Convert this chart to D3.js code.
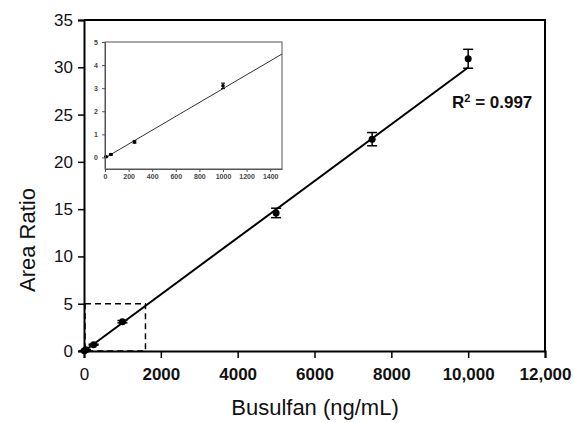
<!DOCTYPE html>
<html>
<head>
<meta charset="utf-8">
<script src="https://cdn.jsdelivr.net/npm/d3@7"></script>
<style>
  body { margin: 0; background: #fff; }
  svg { display: block; font-family: "Liberation Sans", Arial, sans-serif; }
</style>
</head>
<body>
<div id="chart"></div>
<script>
// calibration data (busulfan ng/mL vs area ratio)
const conc = [10, 50, 250, 1000, 5000, 7500, 10000];
const ratio = [0.03, 0.13, 0.67, 3.1, 14.6, 22.4, 30.9];
const err = [0.02, 0.03, 0.05, 0.12, 0.5, 0.7, 1.0];
const fitSlope = 0.003;
const fitIntercept = -0.02;
const fitRange = [0, 10000];
const insetRange = [0, 1500];
const zoomBox = [1600, 5];
const xTicks = [0, 2000, 4000, 6000, 8000, 10000, 12000];
const yTicks = [0, 5, 10, 15, 20, 25, 30, 35];
const insetXTicks = [0, 200, 400, 600, 800, 1000, 1200, 1400];
const insetYTicks = [0, 1, 2, 3, 4, 5];
const r2Label = "0.997";

const W = 574, H = 423;
const svg = d3.select("#chart").append("svg")
    .attr("width", W).attr("height", H);

const x = d3.scaleLinear().domain([0, 12000]).range([84, 545]);
const y = d3.scaleLinear().domain([0, 35]).range([351, 20]);

// frame top & right
svg.append("path")
    .attr("d", `M${x(0)},${y(35)}H${x(12000)}V${y(0)}`)
    .attr("fill", "none").attr("stroke", "#000").attr("stroke-width", 2);

// dashed zoom box
svg.append("rect")
    .attr("x", x(0) + 1).attr("y", y(zoomBox[1]))
    .attr("width", x(zoomBox[0]) - x(0) - 1)
    .attr("height", y(0) - y(zoomBox[1]))
    .attr("fill", "none").attr("stroke", "#000")
    .attr("stroke-width", 1.5).attr("stroke-dasharray", "6,4");

// fit line
svg.append("line")
    .attr("x1", x(fitRange[0])).attr("y1", y(fitIntercept + fitSlope * fitRange[0]))
    .attr("x2", x(fitRange[1])).attr("y2", y(fitIntercept + fitSlope * fitRange[1]))
    .attr("stroke", "#000").attr("stroke-width", 2);

// error bars + points
const pts = conc.map((c, i) => ({ c, r: ratio[i], e: err[i] }));
const eb = svg.append("g").attr("stroke", "#000").attr("stroke-width", 1.5);
pts.forEach(d => {
    eb.append("line").attr("x1", x(d.c)).attr("x2", x(d.c))
        .attr("y1", y(d.r - d.e)).attr("y2", y(d.r + d.e));
    [d.r - d.e, d.r + d.e].forEach(v => {
        eb.append("line").attr("x1", x(d.c) - 5).attr("x2", x(d.c) + 5)
            .attr("y1", y(v)).attr("y2", y(v));
    });
});
svg.append("g").selectAll("circle").data(pts).enter().append("circle")
    .attr("cx", d => x(d.c)).attr("cy", d => y(d.r)).attr("r", 3.5)
    .attr("fill", "#000");

// axes
const xAxis = svg.append("g")
    .attr("transform", `translate(0,${y(0)})`)
    .call(d3.axisBottom(x).tickValues(xTicks).tickSize(7).tickPadding(10)
        .tickFormat(d => d >= 10000 ? d3.format(",")(d) : d));
xAxis.selectAll("text").attr("font-size", 17).attr("font-weight", d => d === 0 ? "normal" : "bold")
    .attr("fill", "#111");
const yAxis = svg.append("g")
    .attr("transform", `translate(${x(0)},0)`)
    .call(d3.axisLeft(y).tickValues(yTicks).tickSize(6).tickPadding(5));
yAxis.selectAll("text").attr("font-size", 17).attr("fill", "#111");
[xAxis, yAxis].forEach(a => {
    a.select(".domain").attr("stroke-width", 2);
    a.selectAll(".tick line").attr("stroke-width", 1.5);
});

// axis titles
svg.append("text").attr("x", 315).attr("y", 415)
    .attr("text-anchor", "middle").attr("font-size", 22).attr("fill", "#111")
    .text("Busulfan (ng/mL)");
svg.append("text")
    .attr("transform", "translate(35,240) rotate(-90)")
    .attr("text-anchor", "middle").attr("font-size", 22).attr("fill", "#111")
    .text("Area Ratio");

// R² label
const r2 = svg.append("text").attr("x", 452).attr("y", 108)
    .attr("font-size", 17).attr("font-weight", "bold").attr("fill", "#111");
r2.append("tspan").text("R");
r2.append("tspan").attr("font-size", 11).attr("dy", -6).text("2");
r2.append("tspan").attr("dy", 6).text(" = " + r2Label);

// inset
const ix = d3.scaleLinear().domain(insetRange).range([105, 282]);
const iy = d3.scaleLinear().domain([-0.5, 5]).range([169, 42]);
const inset = svg.append("g");
inset.append("rect")
    .attr("x", ix(insetRange[0])).attr("y", iy(5))
    .attr("width", ix(insetRange[1]) - ix(insetRange[0]))
    .attr("height", iy(-0.5) - iy(5))
    .attr("fill", "#fff").attr("stroke", "#555").attr("stroke-width", 1);
inset.append("line")
    .attr("x1", ix(insetRange[0])).attr("y1", iy(fitIntercept + fitSlope * insetRange[0]))
    .attr("x2", ix(insetRange[1])).attr("y2", iy(fitIntercept + fitSlope * insetRange[1]))
    .attr("stroke", "#333").attr("stroke-width", 1);
const ipts = pts.filter(d => d.c <= insetRange[1]);
ipts.forEach(d => {
    inset.append("line").attr("x1", ix(d.c)).attr("x2", ix(d.c))
        .attr("y1", iy(d.r - d.e)).attr("y2", iy(d.r + d.e))
        .attr("stroke", "#000").attr("stroke-width", 1);
    [d.r - d.e, d.r + d.e].forEach(v => {
        inset.append("line").attr("x1", ix(d.c) - 2).attr("x2", ix(d.c) + 2)
            .attr("y1", iy(v)).attr("y2", iy(v))
            .attr("stroke", "#000").attr("stroke-width", 1);
    });
});
inset.selectAll("circle").data(ipts).enter().append("circle")
    .attr("cx", d => ix(d.c)).attr("cy", d => iy(d.r)).attr("r", 1.8)
    .attr("fill", "#000");
const ixAxis = inset.append("g")
    .attr("transform", `translate(0,${iy(-0.5)})`)
    .call(d3.axisBottom(ix).tickValues(insetXTicks).tickSize(3).tickPadding(2)
        .tickSizeOuter(0).tickFormat(d3.format("d")));
const iyAxis = inset.append("g")
    .attr("transform", `translate(${ix(0)},0)`)
    .call(d3.axisLeft(iy).tickValues(insetYTicks).tickSize(3).tickPadding(4)
        .tickSizeOuter(0).tickFormat(d3.format("d")));
[ixAxis, iyAxis].forEach(a => {
    a.select(".domain").attr("stroke", "#555");
    a.selectAll(".tick line").attr("stroke", "#555");
    a.selectAll("text").attr("font-size", 7).attr("font-weight", "bold").attr("fill", "#444");
});
</script>
</body>
</html>
